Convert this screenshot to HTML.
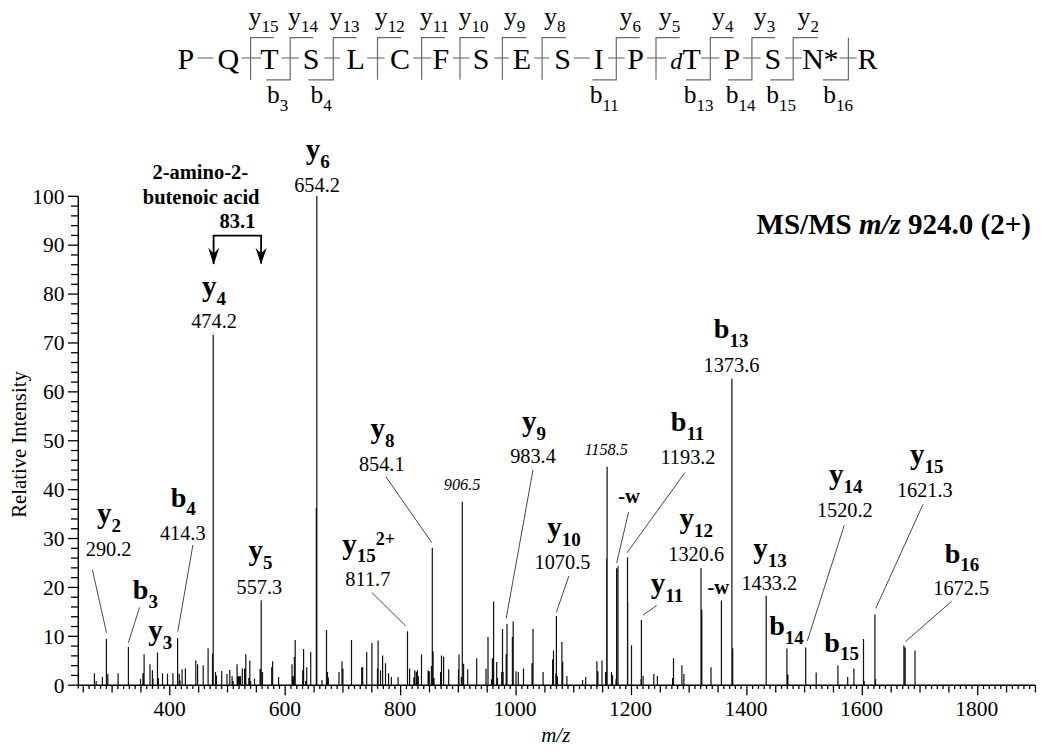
<!DOCTYPE html>
<html><head><meta charset="utf-8"><style>
html,body{margin:0;padding:0;background:#fff;}
svg{display:block;}
text{font-family:"Liberation Serif",serif;}
</style></head><body>
<svg width="1050" height="756" viewBox="0 0 1050 756">
<rect width="1050" height="756" fill="#fff"/>
<text x="177.53" y="68.60" font-size="30" font-weight="normal" font-style="normal" fill="#000">P</text>
<text x="217.41" y="68.60" font-size="30" font-weight="normal" font-style="normal" fill="#000">Q</text>
<text x="260.32" y="68.60" font-size="30" font-weight="normal" font-style="normal" fill="#000">T</text>
<text x="302.78" y="68.60" font-size="30" font-weight="normal" font-style="normal" fill="#000">S</text>
<text x="346.41" y="68.60" font-size="30" font-weight="normal" font-style="normal" fill="#000">L</text>
<text x="390.01" y="68.60" font-size="30" font-weight="normal" font-style="normal" fill="#000">C</text>
<text x="432.47" y="68.60" font-size="30" font-weight="normal" font-style="normal" fill="#000">F</text>
<text x="472.68" y="68.60" font-size="30" font-weight="normal" font-style="normal" fill="#000">S</text>
<text x="512.65" y="68.60" font-size="30" font-weight="normal" font-style="normal" fill="#000">E</text>
<text x="554.28" y="68.60" font-size="30" font-weight="normal" font-style="normal" fill="#000">S</text>
<text x="593.69" y="68.60" font-size="30" font-weight="normal" font-style="normal" fill="#000">I</text>
<text x="627.23" y="68.60" font-size="30" font-weight="normal" font-style="normal" fill="#000">P</text>
<text x="723.53" y="68.60" font-size="30" font-weight="normal" font-style="normal" fill="#000">P</text>
<text x="764.58" y="68.60" font-size="30" font-weight="normal" font-style="normal" fill="#000">S</text>
<text x="857.38" y="68.60" font-size="30" font-weight="normal" font-style="normal" fill="#000">R</text>
<text x="670.27" y="68.60" font-size="24" font-weight="normal" font-style="italic" fill="#000">d</text>
<text x="682.56" y="68.60" font-size="30" font-weight="normal" font-style="normal" fill="#000">T</text>
<text x="802.34" y="68.60" font-size="30" font-weight="normal" font-style="normal" fill="#000">N</text>
<text x="823.54" y="68.60" font-size="30" font-weight="normal" font-style="normal" fill="#000">*</text>
<line x1="197.40" y1="58.00" x2="213.40" y2="58.00" stroke="#6a6a6a" stroke-width="1.1"/>
<line x1="241.40" y1="58.00" x2="260.90" y2="58.00" stroke="#6a6a6a" stroke-width="1.1"/>
<line x1="281.40" y1="58.00" x2="298.90" y2="58.00" stroke="#6a6a6a" stroke-width="1.1"/>
<line x1="324.30" y1="58.00" x2="340.20" y2="58.00" stroke="#6a6a6a" stroke-width="1.1"/>
<line x1="367.10" y1="58.00" x2="384.60" y2="58.00" stroke="#6a6a6a" stroke-width="1.1"/>
<line x1="413.20" y1="58.00" x2="431.40" y2="58.00" stroke="#6a6a6a" stroke-width="1.1"/>
<line x1="452.90" y1="58.00" x2="469.50" y2="58.00" stroke="#6a6a6a" stroke-width="1.1"/>
<line x1="494.40" y1="58.00" x2="508.70" y2="58.00" stroke="#6a6a6a" stroke-width="1.1"/>
<line x1="534.10" y1="58.00" x2="549.20" y2="58.00" stroke="#6a6a6a" stroke-width="1.1"/>
<line x1="573.80" y1="58.00" x2="589.70" y2="58.00" stroke="#6a6a6a" stroke-width="1.1"/>
<line x1="608.00" y1="58.00" x2="624.60" y2="58.00" stroke="#6a6a6a" stroke-width="1.1"/>
<line x1="647.10" y1="58.00" x2="666.20" y2="58.00" stroke="#6a6a6a" stroke-width="1.1"/>
<line x1="701.10" y1="58.00" x2="719.40" y2="58.00" stroke="#6a6a6a" stroke-width="1.1"/>
<line x1="743.20" y1="58.00" x2="760.60" y2="58.00" stroke="#6a6a6a" stroke-width="1.1"/>
<line x1="785.20" y1="58.00" x2="801.90" y2="58.00" stroke="#6a6a6a" stroke-width="1.1"/>
<line x1="839.70" y1="58.00" x2="856.70" y2="58.00" stroke="#6a6a6a" stroke-width="1.1"/>
<polyline points="273.8,37.7 250.6,37.7 250.6,79.8" fill="none" stroke="#6a6a6a" stroke-width="1.2"/>
<polyline points="313.2,37.7 290.2,37.7 290.2,79.8 266.3,79.8" fill="none" stroke="#6a6a6a" stroke-width="1.2"/>
<polyline points="356.5,37.7 333.3,37.7 333.3,79.8 308.4,79.8" fill="none" stroke="#6a6a6a" stroke-width="1.2"/>
<polyline points="401.0,37.7 377.5,37.7 377.5,79.8" fill="none" stroke="#6a6a6a" stroke-width="1.2"/>
<polyline points="444.9,37.7 421.6,37.7 421.6,79.8" fill="none" stroke="#6a6a6a" stroke-width="1.2"/>
<polyline points="484.9,37.7 460.0,37.7 460.0,79.8" fill="none" stroke="#6a6a6a" stroke-width="1.2"/>
<polyline points="526.5,37.7 502.4,37.7 502.4,79.8" fill="none" stroke="#6a6a6a" stroke-width="1.2"/>
<polyline points="565.9,37.7 542.1,37.7 542.1,79.8" fill="none" stroke="#6a6a6a" stroke-width="1.2"/>
<polyline points="639.7,37.7 616.3,37.7 616.3,79.8 592.5,79.8" fill="none" stroke="#6a6a6a" stroke-width="1.2"/>
<polyline points="679.7,37.7 656.0,37.7 656.0,79.8" fill="none" stroke="#6a6a6a" stroke-width="1.2"/>
<polyline points="733.7,37.7 710.3,37.7 710.3,79.8 686.0,79.8" fill="none" stroke="#6a6a6a" stroke-width="1.2"/>
<polyline points="775.2,37.7 751.9,37.7 751.9,79.8 728.1,79.8" fill="none" stroke="#6a6a6a" stroke-width="1.2"/>
<polyline points="818.1,37.7 793.2,37.7 793.2,79.8 770.2,79.8" fill="none" stroke="#6a6a6a" stroke-width="1.2"/>
<polyline points="848.4,37.7 848.4,79.8 822.9,79.8" fill="none" stroke="#6a6a6a" stroke-width="1.2"/>
<text x="248.58" y="24.50" font-size="26" font-weight="normal" font-style="normal">y</text>
<text x="261.58" y="32.00" font-size="17" font-weight="normal" font-style="normal">15</text>
<text x="287.98" y="24.50" font-size="26" font-weight="normal" font-style="normal">y</text>
<text x="300.98" y="32.00" font-size="17" font-weight="normal" font-style="normal">14</text>
<text x="329.48" y="24.50" font-size="26" font-weight="normal" font-style="normal">y</text>
<text x="342.48" y="32.00" font-size="17" font-weight="normal" font-style="normal">13</text>
<text x="374.78" y="24.50" font-size="26" font-weight="normal" font-style="normal">y</text>
<text x="387.78" y="32.00" font-size="17" font-weight="normal" font-style="normal">12</text>
<text x="419.68" y="24.50" font-size="26" font-weight="normal" font-style="normal">y</text>
<text x="432.68" y="32.00" font-size="17" font-weight="normal" font-style="normal">11</text>
<text x="458.38" y="24.50" font-size="26" font-weight="normal" font-style="normal">y</text>
<text x="471.38" y="32.00" font-size="17" font-weight="normal" font-style="normal">10</text>
<text x="503.68" y="24.50" font-size="26" font-weight="normal" font-style="normal">y</text>
<text x="516.68" y="32.00" font-size="17" font-weight="normal" font-style="normal">9</text>
<text x="544.08" y="24.50" font-size="26" font-weight="normal" font-style="normal">y</text>
<text x="557.08" y="32.00" font-size="17" font-weight="normal" font-style="normal">8</text>
<text x="619.48" y="24.50" font-size="26" font-weight="normal" font-style="normal">y</text>
<text x="632.48" y="32.00" font-size="17" font-weight="normal" font-style="normal">6</text>
<text x="658.68" y="24.50" font-size="26" font-weight="normal" font-style="normal">y</text>
<text x="671.68" y="32.00" font-size="17" font-weight="normal" font-style="normal">5</text>
<text x="711.88" y="24.50" font-size="26" font-weight="normal" font-style="normal">y</text>
<text x="724.88" y="32.00" font-size="17" font-weight="normal" font-style="normal">4</text>
<text x="753.68" y="24.50" font-size="26" font-weight="normal" font-style="normal">y</text>
<text x="766.68" y="32.00" font-size="17" font-weight="normal" font-style="normal">3</text>
<text x="797.58" y="24.50" font-size="26" font-weight="normal" font-style="normal">y</text>
<text x="810.58" y="32.00" font-size="17" font-weight="normal" font-style="normal">2</text>
<text x="267.10" y="102.90" font-size="25.5" font-weight="normal" font-style="normal">b</text>
<text x="279.85" y="110.70" font-size="17" font-weight="normal" font-style="normal">3</text>
<text x="310.50" y="102.90" font-size="25.5" font-weight="normal" font-style="normal">b</text>
<text x="323.25" y="110.70" font-size="17" font-weight="normal" font-style="normal">4</text>
<text x="589.70" y="102.90" font-size="25.5" font-weight="normal" font-style="normal">b</text>
<text x="602.45" y="110.70" font-size="17" font-weight="normal" font-style="normal">11</text>
<text x="683.70" y="102.90" font-size="25.5" font-weight="normal" font-style="normal">b</text>
<text x="696.45" y="110.70" font-size="17" font-weight="normal" font-style="normal">13</text>
<text x="725.70" y="102.90" font-size="25.5" font-weight="normal" font-style="normal">b</text>
<text x="738.45" y="110.70" font-size="17" font-weight="normal" font-style="normal">14</text>
<text x="766.20" y="102.90" font-size="25.5" font-weight="normal" font-style="normal">b</text>
<text x="778.95" y="110.70" font-size="17" font-weight="normal" font-style="normal">15</text>
<text x="823.30" y="102.90" font-size="25.5" font-weight="normal" font-style="normal">b</text>
<text x="836.05" y="110.70" font-size="17" font-weight="normal" font-style="normal">16</text>
<line x1="78.30" y1="196.30" x2="78.30" y2="688.60" stroke="#000" stroke-width="1.4"/>
<line x1="77.80" y1="685.20" x2="1035.05" y2="685.20" stroke="#000" stroke-width="1.4"/>
<line x1="68.00" y1="685.20" x2="78.30" y2="685.20" stroke="#000" stroke-width="1.3"/>
<line x1="71.00" y1="675.42" x2="78.30" y2="675.42" stroke="#000" stroke-width="1.3"/>
<line x1="71.00" y1="665.64" x2="78.30" y2="665.64" stroke="#000" stroke-width="1.3"/>
<line x1="71.00" y1="655.87" x2="78.30" y2="655.87" stroke="#000" stroke-width="1.3"/>
<line x1="71.00" y1="646.09" x2="78.30" y2="646.09" stroke="#000" stroke-width="1.3"/>
<line x1="68.00" y1="636.31" x2="78.30" y2="636.31" stroke="#000" stroke-width="1.3"/>
<line x1="71.00" y1="626.53" x2="78.30" y2="626.53" stroke="#000" stroke-width="1.3"/>
<line x1="71.00" y1="616.75" x2="78.30" y2="616.75" stroke="#000" stroke-width="1.3"/>
<line x1="71.00" y1="606.98" x2="78.30" y2="606.98" stroke="#000" stroke-width="1.3"/>
<line x1="71.00" y1="597.20" x2="78.30" y2="597.20" stroke="#000" stroke-width="1.3"/>
<line x1="68.00" y1="587.42" x2="78.30" y2="587.42" stroke="#000" stroke-width="1.3"/>
<line x1="71.00" y1="577.64" x2="78.30" y2="577.64" stroke="#000" stroke-width="1.3"/>
<line x1="71.00" y1="567.86" x2="78.30" y2="567.86" stroke="#000" stroke-width="1.3"/>
<line x1="71.00" y1="558.09" x2="78.30" y2="558.09" stroke="#000" stroke-width="1.3"/>
<line x1="71.00" y1="548.31" x2="78.30" y2="548.31" stroke="#000" stroke-width="1.3"/>
<line x1="68.00" y1="538.53" x2="78.30" y2="538.53" stroke="#000" stroke-width="1.3"/>
<line x1="71.00" y1="528.75" x2="78.30" y2="528.75" stroke="#000" stroke-width="1.3"/>
<line x1="71.00" y1="518.97" x2="78.30" y2="518.97" stroke="#000" stroke-width="1.3"/>
<line x1="71.00" y1="509.20" x2="78.30" y2="509.20" stroke="#000" stroke-width="1.3"/>
<line x1="71.00" y1="499.42" x2="78.30" y2="499.42" stroke="#000" stroke-width="1.3"/>
<line x1="68.00" y1="489.64" x2="78.30" y2="489.64" stroke="#000" stroke-width="1.3"/>
<line x1="71.00" y1="479.86" x2="78.30" y2="479.86" stroke="#000" stroke-width="1.3"/>
<line x1="71.00" y1="470.08" x2="78.30" y2="470.08" stroke="#000" stroke-width="1.3"/>
<line x1="71.00" y1="460.31" x2="78.30" y2="460.31" stroke="#000" stroke-width="1.3"/>
<line x1="71.00" y1="450.53" x2="78.30" y2="450.53" stroke="#000" stroke-width="1.3"/>
<line x1="68.00" y1="440.75" x2="78.30" y2="440.75" stroke="#000" stroke-width="1.3"/>
<line x1="71.00" y1="430.97" x2="78.30" y2="430.97" stroke="#000" stroke-width="1.3"/>
<line x1="71.00" y1="421.19" x2="78.30" y2="421.19" stroke="#000" stroke-width="1.3"/>
<line x1="71.00" y1="411.42" x2="78.30" y2="411.42" stroke="#000" stroke-width="1.3"/>
<line x1="71.00" y1="401.64" x2="78.30" y2="401.64" stroke="#000" stroke-width="1.3"/>
<line x1="68.00" y1="391.86" x2="78.30" y2="391.86" stroke="#000" stroke-width="1.3"/>
<line x1="71.00" y1="382.08" x2="78.30" y2="382.08" stroke="#000" stroke-width="1.3"/>
<line x1="71.00" y1="372.30" x2="78.30" y2="372.30" stroke="#000" stroke-width="1.3"/>
<line x1="71.00" y1="362.53" x2="78.30" y2="362.53" stroke="#000" stroke-width="1.3"/>
<line x1="71.00" y1="352.75" x2="78.30" y2="352.75" stroke="#000" stroke-width="1.3"/>
<line x1="68.00" y1="342.97" x2="78.30" y2="342.97" stroke="#000" stroke-width="1.3"/>
<line x1="71.00" y1="333.19" x2="78.30" y2="333.19" stroke="#000" stroke-width="1.3"/>
<line x1="71.00" y1="323.41" x2="78.30" y2="323.41" stroke="#000" stroke-width="1.3"/>
<line x1="71.00" y1="313.64" x2="78.30" y2="313.64" stroke="#000" stroke-width="1.3"/>
<line x1="71.00" y1="303.86" x2="78.30" y2="303.86" stroke="#000" stroke-width="1.3"/>
<line x1="68.00" y1="294.08" x2="78.30" y2="294.08" stroke="#000" stroke-width="1.3"/>
<line x1="71.00" y1="284.30" x2="78.30" y2="284.30" stroke="#000" stroke-width="1.3"/>
<line x1="71.00" y1="274.52" x2="78.30" y2="274.52" stroke="#000" stroke-width="1.3"/>
<line x1="71.00" y1="264.75" x2="78.30" y2="264.75" stroke="#000" stroke-width="1.3"/>
<line x1="71.00" y1="254.97" x2="78.30" y2="254.97" stroke="#000" stroke-width="1.3"/>
<line x1="68.00" y1="245.19" x2="78.30" y2="245.19" stroke="#000" stroke-width="1.3"/>
<line x1="71.00" y1="235.41" x2="78.30" y2="235.41" stroke="#000" stroke-width="1.3"/>
<line x1="71.00" y1="225.63" x2="78.30" y2="225.63" stroke="#000" stroke-width="1.3"/>
<line x1="71.00" y1="215.86" x2="78.30" y2="215.86" stroke="#000" stroke-width="1.3"/>
<line x1="71.00" y1="206.08" x2="78.30" y2="206.08" stroke="#000" stroke-width="1.3"/>
<line x1="68.00" y1="196.30" x2="78.30" y2="196.30" stroke="#000" stroke-width="1.3"/>
<text x="53.77" y="692.50" font-size="21.5" font-weight="normal" font-style="normal" fill="#000">0</text>
<text x="43.02" y="643.61" font-size="21.5" font-weight="normal" font-style="normal" fill="#000">10</text>
<text x="43.02" y="594.72" font-size="21.5" font-weight="normal" font-style="normal" fill="#000">20</text>
<text x="43.02" y="545.83" font-size="21.5" font-weight="normal" font-style="normal" fill="#000">30</text>
<text x="43.02" y="496.94" font-size="21.5" font-weight="normal" font-style="normal" fill="#000">40</text>
<text x="43.02" y="448.05" font-size="21.5" font-weight="normal" font-style="normal" fill="#000">50</text>
<text x="43.02" y="399.16" font-size="21.5" font-weight="normal" font-style="normal" fill="#000">60</text>
<text x="43.02" y="350.27" font-size="21.5" font-weight="normal" font-style="normal" fill="#000">70</text>
<text x="43.02" y="301.38" font-size="21.5" font-weight="normal" font-style="normal" fill="#000">80</text>
<text x="43.02" y="252.49" font-size="21.5" font-weight="normal" font-style="normal" fill="#000">90</text>
<text x="32.27" y="203.60" font-size="21.5" font-weight="normal" font-style="normal" fill="#000">100</text>
<line x1="83.24" y1="685.20" x2="83.24" y2="692.40" stroke="#000" stroke-width="1.3"/>
<line x1="89.01" y1="685.20" x2="89.01" y2="688.90" stroke="#000" stroke-width="1.3"/>
<line x1="94.78" y1="685.20" x2="94.78" y2="688.90" stroke="#000" stroke-width="1.3"/>
<line x1="100.55" y1="685.20" x2="100.55" y2="688.90" stroke="#000" stroke-width="1.3"/>
<line x1="106.32" y1="685.20" x2="106.32" y2="688.90" stroke="#000" stroke-width="1.3"/>
<line x1="112.09" y1="685.20" x2="112.09" y2="692.40" stroke="#000" stroke-width="1.3"/>
<line x1="117.86" y1="685.20" x2="117.86" y2="688.90" stroke="#000" stroke-width="1.3"/>
<line x1="123.63" y1="685.20" x2="123.63" y2="688.90" stroke="#000" stroke-width="1.3"/>
<line x1="129.40" y1="685.20" x2="129.40" y2="688.90" stroke="#000" stroke-width="1.3"/>
<line x1="135.17" y1="685.20" x2="135.17" y2="688.90" stroke="#000" stroke-width="1.3"/>
<line x1="140.95" y1="685.20" x2="140.95" y2="692.40" stroke="#000" stroke-width="1.3"/>
<line x1="146.72" y1="685.20" x2="146.72" y2="688.90" stroke="#000" stroke-width="1.3"/>
<line x1="152.49" y1="685.20" x2="152.49" y2="688.90" stroke="#000" stroke-width="1.3"/>
<line x1="158.26" y1="685.20" x2="158.26" y2="688.90" stroke="#000" stroke-width="1.3"/>
<line x1="164.03" y1="685.20" x2="164.03" y2="688.90" stroke="#000" stroke-width="1.3"/>
<line x1="169.80" y1="685.20" x2="169.80" y2="695.30" stroke="#000" stroke-width="1.3"/>
<line x1="175.57" y1="685.20" x2="175.57" y2="688.90" stroke="#000" stroke-width="1.3"/>
<line x1="181.34" y1="685.20" x2="181.34" y2="688.90" stroke="#000" stroke-width="1.3"/>
<line x1="187.11" y1="685.20" x2="187.11" y2="688.90" stroke="#000" stroke-width="1.3"/>
<line x1="192.88" y1="685.20" x2="192.88" y2="688.90" stroke="#000" stroke-width="1.3"/>
<line x1="198.66" y1="685.20" x2="198.66" y2="692.40" stroke="#000" stroke-width="1.3"/>
<line x1="204.43" y1="685.20" x2="204.43" y2="688.90" stroke="#000" stroke-width="1.3"/>
<line x1="210.20" y1="685.20" x2="210.20" y2="688.90" stroke="#000" stroke-width="1.3"/>
<line x1="215.97" y1="685.20" x2="215.97" y2="688.90" stroke="#000" stroke-width="1.3"/>
<line x1="221.74" y1="685.20" x2="221.74" y2="688.90" stroke="#000" stroke-width="1.3"/>
<line x1="227.51" y1="685.20" x2="227.51" y2="692.40" stroke="#000" stroke-width="1.3"/>
<line x1="233.28" y1="685.20" x2="233.28" y2="688.90" stroke="#000" stroke-width="1.3"/>
<line x1="239.05" y1="685.20" x2="239.05" y2="688.90" stroke="#000" stroke-width="1.3"/>
<line x1="244.82" y1="685.20" x2="244.82" y2="688.90" stroke="#000" stroke-width="1.3"/>
<line x1="250.59" y1="685.20" x2="250.59" y2="688.90" stroke="#000" stroke-width="1.3"/>
<line x1="256.37" y1="685.20" x2="256.37" y2="692.40" stroke="#000" stroke-width="1.3"/>
<line x1="262.14" y1="685.20" x2="262.14" y2="688.90" stroke="#000" stroke-width="1.3"/>
<line x1="267.91" y1="685.20" x2="267.91" y2="688.90" stroke="#000" stroke-width="1.3"/>
<line x1="273.68" y1="685.20" x2="273.68" y2="688.90" stroke="#000" stroke-width="1.3"/>
<line x1="279.45" y1="685.20" x2="279.45" y2="688.90" stroke="#000" stroke-width="1.3"/>
<line x1="285.22" y1="685.20" x2="285.22" y2="695.30" stroke="#000" stroke-width="1.3"/>
<line x1="290.99" y1="685.20" x2="290.99" y2="688.90" stroke="#000" stroke-width="1.3"/>
<line x1="296.76" y1="685.20" x2="296.76" y2="688.90" stroke="#000" stroke-width="1.3"/>
<line x1="302.53" y1="685.20" x2="302.53" y2="688.90" stroke="#000" stroke-width="1.3"/>
<line x1="308.30" y1="685.20" x2="308.30" y2="688.90" stroke="#000" stroke-width="1.3"/>
<line x1="314.07" y1="685.20" x2="314.07" y2="692.40" stroke="#000" stroke-width="1.3"/>
<line x1="319.85" y1="685.20" x2="319.85" y2="688.90" stroke="#000" stroke-width="1.3"/>
<line x1="325.62" y1="685.20" x2="325.62" y2="688.90" stroke="#000" stroke-width="1.3"/>
<line x1="331.39" y1="685.20" x2="331.39" y2="688.90" stroke="#000" stroke-width="1.3"/>
<line x1="337.16" y1="685.20" x2="337.16" y2="688.90" stroke="#000" stroke-width="1.3"/>
<line x1="342.93" y1="685.20" x2="342.93" y2="692.40" stroke="#000" stroke-width="1.3"/>
<line x1="348.70" y1="685.20" x2="348.70" y2="688.90" stroke="#000" stroke-width="1.3"/>
<line x1="354.47" y1="685.20" x2="354.47" y2="688.90" stroke="#000" stroke-width="1.3"/>
<line x1="360.24" y1="685.20" x2="360.24" y2="688.90" stroke="#000" stroke-width="1.3"/>
<line x1="366.01" y1="685.20" x2="366.01" y2="688.90" stroke="#000" stroke-width="1.3"/>
<line x1="371.78" y1="685.20" x2="371.78" y2="692.40" stroke="#000" stroke-width="1.3"/>
<line x1="377.56" y1="685.20" x2="377.56" y2="688.90" stroke="#000" stroke-width="1.3"/>
<line x1="383.33" y1="685.20" x2="383.33" y2="688.90" stroke="#000" stroke-width="1.3"/>
<line x1="389.10" y1="685.20" x2="389.10" y2="688.90" stroke="#000" stroke-width="1.3"/>
<line x1="394.87" y1="685.20" x2="394.87" y2="688.90" stroke="#000" stroke-width="1.3"/>
<line x1="400.64" y1="685.20" x2="400.64" y2="695.30" stroke="#000" stroke-width="1.3"/>
<line x1="406.41" y1="685.20" x2="406.41" y2="688.90" stroke="#000" stroke-width="1.3"/>
<line x1="412.18" y1="685.20" x2="412.18" y2="688.90" stroke="#000" stroke-width="1.3"/>
<line x1="417.95" y1="685.20" x2="417.95" y2="688.90" stroke="#000" stroke-width="1.3"/>
<line x1="423.72" y1="685.20" x2="423.72" y2="688.90" stroke="#000" stroke-width="1.3"/>
<line x1="429.50" y1="685.20" x2="429.50" y2="692.40" stroke="#000" stroke-width="1.3"/>
<line x1="435.27" y1="685.20" x2="435.27" y2="688.90" stroke="#000" stroke-width="1.3"/>
<line x1="441.04" y1="685.20" x2="441.04" y2="688.90" stroke="#000" stroke-width="1.3"/>
<line x1="446.81" y1="685.20" x2="446.81" y2="688.90" stroke="#000" stroke-width="1.3"/>
<line x1="452.58" y1="685.20" x2="452.58" y2="688.90" stroke="#000" stroke-width="1.3"/>
<line x1="458.35" y1="685.20" x2="458.35" y2="692.40" stroke="#000" stroke-width="1.3"/>
<line x1="464.12" y1="685.20" x2="464.12" y2="688.90" stroke="#000" stroke-width="1.3"/>
<line x1="469.89" y1="685.20" x2="469.89" y2="688.90" stroke="#000" stroke-width="1.3"/>
<line x1="475.66" y1="685.20" x2="475.66" y2="688.90" stroke="#000" stroke-width="1.3"/>
<line x1="481.43" y1="685.20" x2="481.43" y2="688.90" stroke="#000" stroke-width="1.3"/>
<line x1="487.20" y1="685.20" x2="487.20" y2="692.40" stroke="#000" stroke-width="1.3"/>
<line x1="492.98" y1="685.20" x2="492.98" y2="688.90" stroke="#000" stroke-width="1.3"/>
<line x1="498.75" y1="685.20" x2="498.75" y2="688.90" stroke="#000" stroke-width="1.3"/>
<line x1="504.52" y1="685.20" x2="504.52" y2="688.90" stroke="#000" stroke-width="1.3"/>
<line x1="510.29" y1="685.20" x2="510.29" y2="688.90" stroke="#000" stroke-width="1.3"/>
<line x1="516.06" y1="685.20" x2="516.06" y2="695.30" stroke="#000" stroke-width="1.3"/>
<line x1="521.83" y1="685.20" x2="521.83" y2="688.90" stroke="#000" stroke-width="1.3"/>
<line x1="527.60" y1="685.20" x2="527.60" y2="688.90" stroke="#000" stroke-width="1.3"/>
<line x1="533.37" y1="685.20" x2="533.37" y2="688.90" stroke="#000" stroke-width="1.3"/>
<line x1="539.14" y1="685.20" x2="539.14" y2="688.90" stroke="#000" stroke-width="1.3"/>
<line x1="544.91" y1="685.20" x2="544.91" y2="692.40" stroke="#000" stroke-width="1.3"/>
<line x1="550.69" y1="685.20" x2="550.69" y2="688.90" stroke="#000" stroke-width="1.3"/>
<line x1="556.46" y1="685.20" x2="556.46" y2="688.90" stroke="#000" stroke-width="1.3"/>
<line x1="562.23" y1="685.20" x2="562.23" y2="688.90" stroke="#000" stroke-width="1.3"/>
<line x1="568.00" y1="685.20" x2="568.00" y2="688.90" stroke="#000" stroke-width="1.3"/>
<line x1="573.77" y1="685.20" x2="573.77" y2="692.40" stroke="#000" stroke-width="1.3"/>
<line x1="579.54" y1="685.20" x2="579.54" y2="688.90" stroke="#000" stroke-width="1.3"/>
<line x1="585.31" y1="685.20" x2="585.31" y2="688.90" stroke="#000" stroke-width="1.3"/>
<line x1="591.08" y1="685.20" x2="591.08" y2="688.90" stroke="#000" stroke-width="1.3"/>
<line x1="596.85" y1="685.20" x2="596.85" y2="688.90" stroke="#000" stroke-width="1.3"/>
<line x1="602.62" y1="685.20" x2="602.62" y2="692.40" stroke="#000" stroke-width="1.3"/>
<line x1="608.40" y1="685.20" x2="608.40" y2="688.90" stroke="#000" stroke-width="1.3"/>
<line x1="614.17" y1="685.20" x2="614.17" y2="688.90" stroke="#000" stroke-width="1.3"/>
<line x1="619.94" y1="685.20" x2="619.94" y2="688.90" stroke="#000" stroke-width="1.3"/>
<line x1="625.71" y1="685.20" x2="625.71" y2="688.90" stroke="#000" stroke-width="1.3"/>
<line x1="631.48" y1="685.20" x2="631.48" y2="695.30" stroke="#000" stroke-width="1.3"/>
<line x1="637.25" y1="685.20" x2="637.25" y2="688.90" stroke="#000" stroke-width="1.3"/>
<line x1="643.02" y1="685.20" x2="643.02" y2="688.90" stroke="#000" stroke-width="1.3"/>
<line x1="648.79" y1="685.20" x2="648.79" y2="688.90" stroke="#000" stroke-width="1.3"/>
<line x1="654.56" y1="685.20" x2="654.56" y2="688.90" stroke="#000" stroke-width="1.3"/>
<line x1="660.33" y1="685.20" x2="660.33" y2="692.40" stroke="#000" stroke-width="1.3"/>
<line x1="666.11" y1="685.20" x2="666.11" y2="688.90" stroke="#000" stroke-width="1.3"/>
<line x1="671.88" y1="685.20" x2="671.88" y2="688.90" stroke="#000" stroke-width="1.3"/>
<line x1="677.65" y1="685.20" x2="677.65" y2="688.90" stroke="#000" stroke-width="1.3"/>
<line x1="683.42" y1="685.20" x2="683.42" y2="688.90" stroke="#000" stroke-width="1.3"/>
<line x1="689.19" y1="685.20" x2="689.19" y2="692.40" stroke="#000" stroke-width="1.3"/>
<line x1="694.96" y1="685.20" x2="694.96" y2="688.90" stroke="#000" stroke-width="1.3"/>
<line x1="700.73" y1="685.20" x2="700.73" y2="688.90" stroke="#000" stroke-width="1.3"/>
<line x1="706.50" y1="685.20" x2="706.50" y2="688.90" stroke="#000" stroke-width="1.3"/>
<line x1="712.27" y1="685.20" x2="712.27" y2="688.90" stroke="#000" stroke-width="1.3"/>
<line x1="718.04" y1="685.20" x2="718.04" y2="692.40" stroke="#000" stroke-width="1.3"/>
<line x1="723.82" y1="685.20" x2="723.82" y2="688.90" stroke="#000" stroke-width="1.3"/>
<line x1="729.59" y1="685.20" x2="729.59" y2="688.90" stroke="#000" stroke-width="1.3"/>
<line x1="735.36" y1="685.20" x2="735.36" y2="688.90" stroke="#000" stroke-width="1.3"/>
<line x1="741.13" y1="685.20" x2="741.13" y2="688.90" stroke="#000" stroke-width="1.3"/>
<line x1="746.90" y1="685.20" x2="746.90" y2="695.30" stroke="#000" stroke-width="1.3"/>
<line x1="752.67" y1="685.20" x2="752.67" y2="688.90" stroke="#000" stroke-width="1.3"/>
<line x1="758.44" y1="685.20" x2="758.44" y2="688.90" stroke="#000" stroke-width="1.3"/>
<line x1="764.21" y1="685.20" x2="764.21" y2="688.90" stroke="#000" stroke-width="1.3"/>
<line x1="769.98" y1="685.20" x2="769.98" y2="688.90" stroke="#000" stroke-width="1.3"/>
<line x1="775.75" y1="685.20" x2="775.75" y2="692.40" stroke="#000" stroke-width="1.3"/>
<line x1="781.53" y1="685.20" x2="781.53" y2="688.90" stroke="#000" stroke-width="1.3"/>
<line x1="787.30" y1="685.20" x2="787.30" y2="688.90" stroke="#000" stroke-width="1.3"/>
<line x1="793.07" y1="685.20" x2="793.07" y2="688.90" stroke="#000" stroke-width="1.3"/>
<line x1="798.84" y1="685.20" x2="798.84" y2="688.90" stroke="#000" stroke-width="1.3"/>
<line x1="804.61" y1="685.20" x2="804.61" y2="692.40" stroke="#000" stroke-width="1.3"/>
<line x1="810.38" y1="685.20" x2="810.38" y2="688.90" stroke="#000" stroke-width="1.3"/>
<line x1="816.15" y1="685.20" x2="816.15" y2="688.90" stroke="#000" stroke-width="1.3"/>
<line x1="821.92" y1="685.20" x2="821.92" y2="688.90" stroke="#000" stroke-width="1.3"/>
<line x1="827.69" y1="685.20" x2="827.69" y2="688.90" stroke="#000" stroke-width="1.3"/>
<line x1="833.46" y1="685.20" x2="833.46" y2="692.40" stroke="#000" stroke-width="1.3"/>
<line x1="839.24" y1="685.20" x2="839.24" y2="688.90" stroke="#000" stroke-width="1.3"/>
<line x1="845.01" y1="685.20" x2="845.01" y2="688.90" stroke="#000" stroke-width="1.3"/>
<line x1="850.78" y1="685.20" x2="850.78" y2="688.90" stroke="#000" stroke-width="1.3"/>
<line x1="856.55" y1="685.20" x2="856.55" y2="688.90" stroke="#000" stroke-width="1.3"/>
<line x1="862.32" y1="685.20" x2="862.32" y2="695.30" stroke="#000" stroke-width="1.3"/>
<line x1="868.09" y1="685.20" x2="868.09" y2="688.90" stroke="#000" stroke-width="1.3"/>
<line x1="873.86" y1="685.20" x2="873.86" y2="688.90" stroke="#000" stroke-width="1.3"/>
<line x1="879.63" y1="685.20" x2="879.63" y2="688.90" stroke="#000" stroke-width="1.3"/>
<line x1="885.40" y1="685.20" x2="885.40" y2="688.90" stroke="#000" stroke-width="1.3"/>
<line x1="891.17" y1="685.20" x2="891.17" y2="692.40" stroke="#000" stroke-width="1.3"/>
<line x1="896.95" y1="685.20" x2="896.95" y2="688.90" stroke="#000" stroke-width="1.3"/>
<line x1="902.72" y1="685.20" x2="902.72" y2="688.90" stroke="#000" stroke-width="1.3"/>
<line x1="908.49" y1="685.20" x2="908.49" y2="688.90" stroke="#000" stroke-width="1.3"/>
<line x1="914.26" y1="685.20" x2="914.26" y2="688.90" stroke="#000" stroke-width="1.3"/>
<line x1="920.03" y1="685.20" x2="920.03" y2="692.40" stroke="#000" stroke-width="1.3"/>
<line x1="925.80" y1="685.20" x2="925.80" y2="688.90" stroke="#000" stroke-width="1.3"/>
<line x1="931.57" y1="685.20" x2="931.57" y2="688.90" stroke="#000" stroke-width="1.3"/>
<line x1="937.34" y1="685.20" x2="937.34" y2="688.90" stroke="#000" stroke-width="1.3"/>
<line x1="943.11" y1="685.20" x2="943.11" y2="688.90" stroke="#000" stroke-width="1.3"/>
<line x1="948.88" y1="685.20" x2="948.88" y2="692.40" stroke="#000" stroke-width="1.3"/>
<line x1="954.66" y1="685.20" x2="954.66" y2="688.90" stroke="#000" stroke-width="1.3"/>
<line x1="960.43" y1="685.20" x2="960.43" y2="688.90" stroke="#000" stroke-width="1.3"/>
<line x1="966.20" y1="685.20" x2="966.20" y2="688.90" stroke="#000" stroke-width="1.3"/>
<line x1="971.97" y1="685.20" x2="971.97" y2="688.90" stroke="#000" stroke-width="1.3"/>
<line x1="977.74" y1="685.20" x2="977.74" y2="695.30" stroke="#000" stroke-width="1.3"/>
<line x1="983.51" y1="685.20" x2="983.51" y2="688.90" stroke="#000" stroke-width="1.3"/>
<line x1="989.28" y1="685.20" x2="989.28" y2="688.90" stroke="#000" stroke-width="1.3"/>
<line x1="995.05" y1="685.20" x2="995.05" y2="688.90" stroke="#000" stroke-width="1.3"/>
<line x1="1000.82" y1="685.20" x2="1000.82" y2="688.90" stroke="#000" stroke-width="1.3"/>
<line x1="1006.59" y1="685.20" x2="1006.59" y2="692.40" stroke="#000" stroke-width="1.3"/>
<line x1="1012.37" y1="685.20" x2="1012.37" y2="688.90" stroke="#000" stroke-width="1.3"/>
<line x1="1018.14" y1="685.20" x2="1018.14" y2="688.90" stroke="#000" stroke-width="1.3"/>
<line x1="1023.91" y1="685.20" x2="1023.91" y2="688.90" stroke="#000" stroke-width="1.3"/>
<line x1="1029.68" y1="685.20" x2="1029.68" y2="688.90" stroke="#000" stroke-width="1.3"/>
<line x1="1035.45" y1="685.20" x2="1035.45" y2="692.40" stroke="#000" stroke-width="1.3"/>
<text x="153.47" y="716.40" font-size="21.5" font-weight="normal" font-style="normal" fill="#000">400</text>
<text x="268.64" y="716.40" font-size="21.5" font-weight="normal" font-style="normal" fill="#000">600</text>
<text x="384.12" y="716.40" font-size="21.5" font-weight="normal" font-style="normal" fill="#000">800</text>
<text x="493.62" y="716.40" font-size="21.5" font-weight="normal" font-style="normal" fill="#000">1000</text>
<text x="609.04" y="716.40" font-size="21.5" font-weight="normal" font-style="normal" fill="#000">1200</text>
<text x="724.46" y="716.40" font-size="21.5" font-weight="normal" font-style="normal" fill="#000">1400</text>
<text x="839.88" y="716.40" font-size="21.5" font-weight="normal" font-style="normal" fill="#000">1600</text>
<text x="955.30" y="716.40" font-size="21.5" font-weight="normal" font-style="normal" fill="#000">1800</text>
<text x="541.14" y="741.60" font-size="21" font-weight="normal" font-style="italic" fill="#000">m/z</text>
<text transform="translate(26.2,444.2) rotate(-90)" x="-73.55" y="0" font-size="20.7">Relative Intensity</text>
<path d="M94.4 685.2V673.2M96.2 685.2V681.0M102.4 685.2V677.1M106.4 685.2V638.7M107.8 685.2V674.0M118.1 685.2V673.2M128.4 685.2V647.0M140.5 685.2V678.9M142.9 685.2V673.2M144.1 685.2V654.2M150.0 685.2V664.3M152.4 685.2V670.2M153.0 685.2V678.6M157.5 685.2V652.4M158.4 685.2V678.0M162.5 685.2V673.2M167.5 685.2V673.8M172.9 685.2V673.2M177.6 685.2V638.1M179.2 685.2V673.8M180.0 685.2V680.4M182.1 685.2V669.3M185.4 685.2V668.5M195.8 685.2V660.5M197.6 685.2V664.3M203.2 685.2V665.2M208.1 685.2V648.2M213.2 685.2V334.8M212.5 685.2V653.6M215.5 685.2V672.0M216.4 685.2V675.6M221.7 685.2V671.1M227.0 685.2V674.0M229.8 685.2V670.0M232.1 685.2V676.2M233.1 685.2V681.0M237.1 685.2V664.3M238.1 685.2V676.2M239.3 685.2V676.2M240.5 685.2V676.2M242.3 685.2V668.5M244.6 685.2V668.5M245.8 685.2V654.2M248.8 685.2V678.0M249.8 685.2V660.5M250.6 685.2V681.0M254.5 685.2V678.8M260.1 685.2V669.0M261.2 685.2V600.3M262.5 685.2V672.0M271.7 685.2V667.3M272.6 685.2V661.3M278.6 685.2V677.1M292.0 685.2V664.3M293.2 685.2V676.2M294.4 685.2V657.1M295.2 685.2V639.9M302.7 685.2V670.2M303.6 685.2V649.0M305.7 685.2V681.0M306.7 685.2V667.3M310.7 685.2V652.1M316.8 685.2V196.1M316.3 685.2V507.8M322.0 685.2V680.0M326.5 685.2V630.0M327.5 685.2V672.0M328.3 685.2V677.4M339.0 685.2V672.0M342.0 685.2V661.3M342.9 685.2V668.5M351.5 685.2V639.9M361.7 685.2V667.3M362.6 685.2V667.3M366.7 685.2V652.1M371.9 685.2V643.1M377.5 685.2V668.5M378.1 685.2V640.5M380.5 685.2V670.2M382.6 685.2V655.4M385.5 685.2V663.3M388.6 685.2V673.2M391.4 685.2V677.1M398.1 685.2V677.1M407.5 685.2V631.2M409.6 685.2V668.5M413.8 685.2V677.4M414.8 685.2V670.2M416.4 685.2V672.0M417.4 685.2V670.2M418.3 685.2V676.2M421.5 685.2V654.5M428.1 685.2V670.2M429.3 685.2V671.2M431.4 685.2V666.1M432.3 685.2V547.7M433.1 685.2V651.4M434.0 685.2V678.0M440.6 685.2V672.0M441.5 685.2V655.4M443.6 685.2V656.5M448.7 685.2V669.3M458.5 685.2V669.3M459.0 685.2V654.5M462.3 685.2V501.7M461.4 685.2V677.1M463.6 685.2V663.7M467.7 685.2V669.3M476.7 685.2V658.3M486.0 685.2V668.5M488.0 685.2V637.1M491.5 685.2V679.2M492.4 685.2V658.3M493.6 685.2V601.4M496.7 685.2V662.1M497.5 685.2V678.0M501.7 685.2V672.0M502.5 685.2V628.9M503.1 685.2V672.0M506.2 685.2V654.2M507.0 685.2V624.0M512.4 685.2V637.1M513.2 685.2V621.2M516.0 685.2V671.2M518.3 685.2V672.0M523.5 685.2V668.5M532.0 685.2V663.3M533.0 685.2V628.9M543.1 685.2V672.0M552.6 685.2V659.5M553.5 685.2V650.6M555.8 685.2V673.6M556.4 685.2V616.1M557.4 685.2V676.2M561.9 685.2V641.9M562.7 685.2V661.7M566.9 685.2V676.0M582.6 685.2V680.0M585.7 685.2V677.1M596.9 685.2V661.3M597.9 685.2V671.2M602.0 685.2V660.5M605.6 685.2V672.0M607.1 685.2V466.7M606.7 685.2V558.6M611.5 685.2V672.0M612.5 685.2V675.0M616.0 685.2V679.2M616.6 685.2V568.2M618.0 685.2V566.2M627.5 685.2V557.2M627.7 685.2V602.1M631.5 685.2V645.2M641.0 685.2V679.2M641.4 685.2V620.0M643.1 685.2V676.0M653.8 685.2V674.0M657.4 685.2V676.0M672.6 685.2V678.0M673.5 685.2V658.3M681.9 685.2V665.2M683.9 685.2V674.0M701.0 685.2V567.9M701.8 685.2V609.5M711.0 685.2V667.3M721.4 685.2V600.4M731.9 685.2V378.8M732.7 685.2V648.2M766.2 685.2V595.7M786.9 685.2V648.6M787.9 685.2V674.4M805.7 685.2V647.6M816.2 685.2V672.6M837.9 685.2V665.5M847.7 685.2V677.1M853.9 685.2V668.5M863.5 685.2V639.0M864.2 685.2V681.0M874.9 685.2V614.5M875.5 685.2V678.9M903.9 685.2V645.5M905.2 685.2V647.6M915.0 685.2V650.6" stroke="#111" stroke-width="1.2" fill="none"/>
<line x1="92.40" y1="569.80" x2="106.50" y2="632.70" stroke="#333" stroke-width="0.9"/>
<line x1="139.60" y1="607.30" x2="128.30" y2="642.80" stroke="#333" stroke-width="0.9"/>
<line x1="192.90" y1="545.00" x2="177.80" y2="631.60" stroke="#333" stroke-width="0.9"/>
<line x1="371.90" y1="592.50" x2="405.60" y2="625.90" stroke="#333" stroke-width="0.9"/>
<line x1="385.80" y1="476.60" x2="431.80" y2="542.70" stroke="#333" stroke-width="0.9"/>
<line x1="533.00" y1="469.80" x2="506.20" y2="618.30" stroke="#333" stroke-width="0.9"/>
<line x1="568.80" y1="576.10" x2="556.30" y2="612.50" stroke="#333" stroke-width="0.9"/>
<line x1="628.60" y1="512.20" x2="616.70" y2="562.80" stroke="#333" stroke-width="0.9"/>
<line x1="685.00" y1="472.50" x2="627.10" y2="552.70" stroke="#333" stroke-width="0.9"/>
<line x1="656.70" y1="605.60" x2="642.90" y2="615.10" stroke="#333" stroke-width="0.9"/>
<line x1="844.30" y1="525.20" x2="807.30" y2="640.90" stroke="#333" stroke-width="0.9"/>
<line x1="923.00" y1="504.40" x2="875.70" y2="608.50" stroke="#333" stroke-width="0.9"/>
<line x1="951.70" y1="601.20" x2="905.50" y2="641.60" stroke="#333" stroke-width="0.9"/>
<text transform="translate(85.73,556.30) scale(0.9575,1)" font-size="21.2" font-weight="normal" font-style="normal" fill="#000">290.2</text>
<text transform="translate(159.91,540.20) scale(0.9575,1)" font-size="21.2" font-weight="normal" font-style="normal" fill="#000">414.3</text>
<text transform="translate(191.22,328.30) scale(0.9575,1)" font-size="21.2" font-weight="normal" font-style="normal" fill="#000">474.2</text>
<text transform="translate(294.19,191.70) scale(0.9575,1)" font-size="21.2" font-weight="normal" font-style="normal" fill="#000">654.2</text>
<text transform="translate(236.57,593.70) scale(0.9575,1)" font-size="21.2" font-weight="normal" font-style="normal" fill="#000">557.3</text>
<text transform="translate(345.37,585.90) scale(0.9575,1)" font-size="21.2" font-weight="normal" font-style="normal" fill="#000">811.7</text>
<text transform="translate(358.89,471.10) scale(0.9575,1)" font-size="21.2" font-weight="normal" font-style="normal" fill="#000">854.1</text>
<text transform="translate(510.14,462.60) scale(0.9575,1)" font-size="21.2" font-weight="normal" font-style="normal" fill="#000">983.4</text>
<text transform="translate(534.54,568.80) scale(0.9575,1)" font-size="21.2" font-weight="normal" font-style="normal" fill="#000">1070.5</text>
<text transform="translate(660.46,464.30) scale(0.9575,1)" font-size="21.2" font-weight="normal" font-style="normal" fill="#000">1193.2</text>
<text transform="translate(668.30,561.10) scale(0.9575,1)" font-size="21.2" font-weight="normal" font-style="normal" fill="#000">1320.6</text>
<text transform="translate(703.55,371.90) scale(0.9575,1)" font-size="21.2" font-weight="normal" font-style="normal" fill="#000">1373.6</text>
<text transform="translate(741.42,589.70) scale(0.9575,1)" font-size="21.2" font-weight="normal" font-style="normal" fill="#000">1433.2</text>
<text transform="translate(816.91,516.60) scale(0.9575,1)" font-size="21.2" font-weight="normal" font-style="normal" fill="#000">1520.2</text>
<text transform="translate(896.89,496.80) scale(0.9575,1)" font-size="21.2" font-weight="normal" font-style="normal" fill="#000">1621.3</text>
<text transform="translate(933.24,595.30) scale(0.9575,1)" font-size="21.2" font-weight="normal" font-style="normal" fill="#000">1672.5</text>
<text x="443.82" y="490.40" font-size="16.3" font-weight="normal" font-style="italic" fill="#000">906.5</text>
<text x="584.42" y="455.00" font-size="16.3" font-weight="normal" font-style="italic" fill="#000">1158.5</text>
<text x="96.92" y="523.00" font-size="29" font-weight="bold" font-style="normal">y</text>
<text x="111.42" y="532.00" font-size="19" font-weight="bold" font-style="normal">2</text>
<text x="132.74" y="599.40" font-size="28.2" font-weight="bold" font-style="normal">b</text>
<text x="148.43" y="607.60" font-size="19" font-weight="bold" font-style="normal">3</text>
<text x="148.22" y="639.60" font-size="29" font-weight="bold" font-style="normal">y</text>
<text x="162.72" y="648.60" font-size="19" font-weight="bold" font-style="normal">3</text>
<text x="170.64" y="507.20" font-size="28.2" font-weight="bold" font-style="normal">b</text>
<text x="186.33" y="515.40" font-size="19" font-weight="bold" font-style="normal">4</text>
<text x="202.02" y="295.90" font-size="29" font-weight="bold" font-style="normal">y</text>
<text x="216.52" y="304.90" font-size="19" font-weight="bold" font-style="normal">4</text>
<text x="305.72" y="158.80" font-size="29" font-weight="bold" font-style="normal">y</text>
<text x="320.22" y="167.80" font-size="19" font-weight="bold" font-style="normal">6</text>
<text x="248.42" y="560.10" font-size="29" font-weight="bold" font-style="normal">y</text>
<text x="262.92" y="569.10" font-size="19" font-weight="bold" font-style="normal">5</text>
<text x="370.42" y="438.40" font-size="29" font-weight="bold" font-style="normal">y</text>
<text x="384.92" y="447.40" font-size="19" font-weight="bold" font-style="normal">8</text>
<text x="521.92" y="430.80" font-size="29" font-weight="bold" font-style="normal">y</text>
<text x="536.42" y="439.80" font-size="19" font-weight="bold" font-style="normal">9</text>
<text x="547.22" y="536.50" font-size="29" font-weight="bold" font-style="normal">y</text>
<text x="561.72" y="545.50" font-size="19" font-weight="bold" font-style="normal">10</text>
<text x="670.74" y="431.40" font-size="28.2" font-weight="bold" font-style="normal">b</text>
<text x="686.43" y="439.60" font-size="19" font-weight="bold" font-style="normal">11</text>
<text x="650.72" y="592.60" font-size="29" font-weight="bold" font-style="normal">y</text>
<text x="665.22" y="601.60" font-size="19" font-weight="bold" font-style="normal">11</text>
<text x="679.62" y="528.20" font-size="29" font-weight="bold" font-style="normal">y</text>
<text x="694.12" y="537.20" font-size="19" font-weight="bold" font-style="normal">12</text>
<text x="713.74" y="338.40" font-size="28.2" font-weight="bold" font-style="normal">b</text>
<text x="729.43" y="346.60" font-size="19" font-weight="bold" font-style="normal">13</text>
<text x="753.22" y="557.70" font-size="29" font-weight="bold" font-style="normal">y</text>
<text x="767.72" y="566.70" font-size="19" font-weight="bold" font-style="normal">13</text>
<text x="769.14" y="635.30" font-size="28.2" font-weight="bold" font-style="normal">b</text>
<text x="784.83" y="643.50" font-size="19" font-weight="bold" font-style="normal">14</text>
<text x="829.12" y="483.70" font-size="29" font-weight="bold" font-style="normal">y</text>
<text x="843.62" y="492.70" font-size="19" font-weight="bold" font-style="normal">14</text>
<text x="824.24" y="652.20" font-size="28.2" font-weight="bold" font-style="normal">b</text>
<text x="839.93" y="660.40" font-size="19" font-weight="bold" font-style="normal">15</text>
<text x="910.12" y="463.90" font-size="29" font-weight="bold" font-style="normal">y</text>
<text x="924.62" y="472.90" font-size="19" font-weight="bold" font-style="normal">15</text>
<text x="944.64" y="562.60" font-size="28.2" font-weight="bold" font-style="normal">b</text>
<text x="960.33" y="570.80" font-size="19" font-weight="bold" font-style="normal">16</text>
<text x="342.32" y="553.50" font-size="29" font-weight="bold" font-style="normal">y</text>
<text x="356.82" y="562.00" font-size="19" font-weight="bold" font-style="normal">15</text>
<text x="375.82" y="545.20" font-size="18" font-weight="bold" font-style="normal">2+</text>
<text x="618.15" y="503.00" font-size="20.5" font-weight="bold" font-style="normal" fill="#000">-w</text>
<text x="707.55" y="593.70" font-size="20.5" font-weight="bold" font-style="normal" fill="#000">-w</text>
<text x="152.44" y="179.10" font-size="20.5" font-weight="bold" font-style="normal" fill="#000">2-amino-2-</text>
<text x="142.74" y="203.90" font-size="20.5" font-weight="bold" font-style="normal" fill="#000">butenoic acid</text>
<text x="219.52" y="228.00" font-size="20.5" font-weight="bold" font-style="normal" fill="#000">83.1</text>
<path d="M213.6 264 V235.6 H261.1 V263.5" fill="none" stroke="#000" stroke-width="1.8"/>
<path d="M208.2 247.8 L213.7 264.8 L219.2 247.8 L213.7 253.5 Z" fill="#000"/>
<path d="M255.5 247.8 L261.1 264.3 L266.7 247.8 L261.1 253.5 Z" fill="#000"/>
<text x="756.60" y="234" font-size="29" font-weight="bold">MS/MS <tspan font-style="italic">m/z</tspan> 924.0 (2+)</text>
</svg>
</body></html>
